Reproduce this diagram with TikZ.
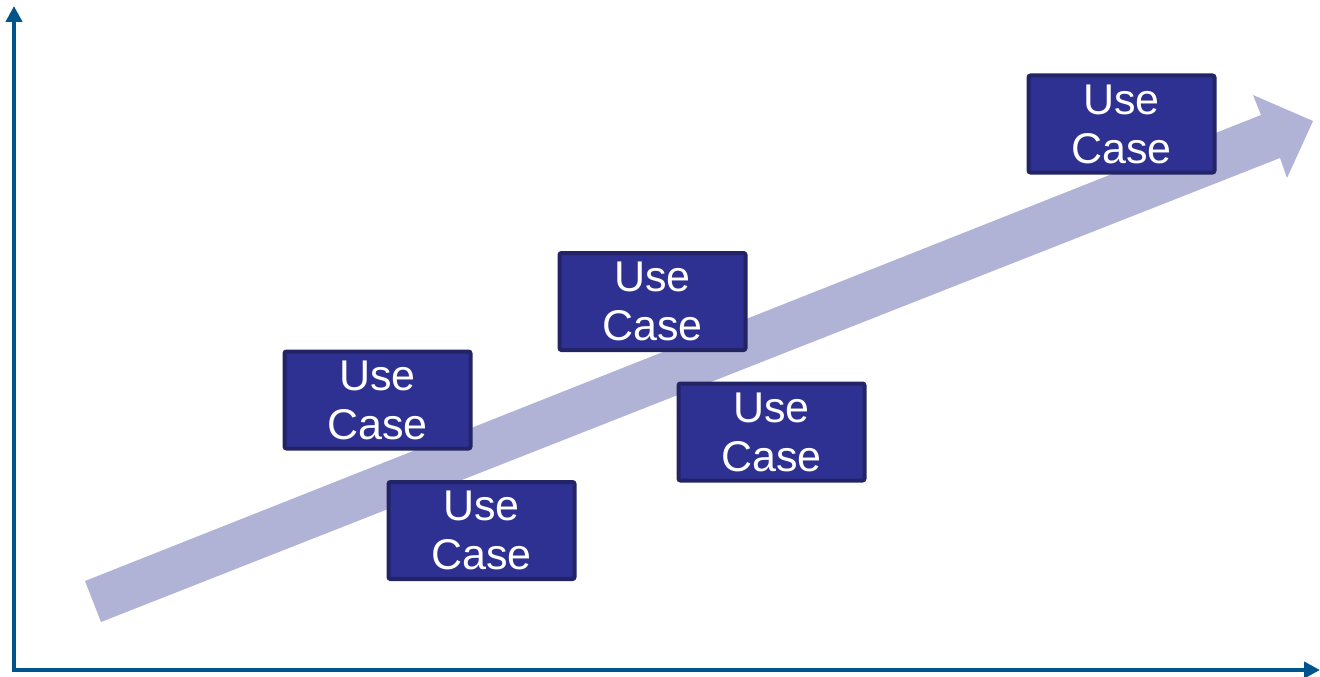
\documentclass[tikz,border=0pt]{standalone}
\usepackage{fontspec}
\setmainfont{Liberation Sans}
\usetikzlibrary{arrows.meta}
\definecolor{axisblue}{RGB}{0,84,140}
\definecolor{boxfill}{RGB}{46,49,146}
\definecolor{boxline}{RGB}{34,36,102}
\definecolor{arrowfill}{RGB}{176,179,214}
\tikzset{
  axisline/.style={draw=axisblue, line width=4pt, -{Triangle[width=16pt,length=16pt]}},
  usecase/.style={draw=boxline, fill=boxfill, line width=4pt, rounded corners=2pt,
    minimum width=186pt, minimum height=97pt, inner sep=0pt, align=center,
    text=white, font=\fontsize{43}{49}\selectfont},
  bigarrow/.style={fill=arrowfill, draw=none}
}
\begin{document}
\begin{tikzpicture}[x=1pt,y=-1pt]
\useasboundingbox (0,0) rectangle (1320,677);
% axes
\coordinate (O) at (14,670);
\coordinate (ytop) at (14,6);
\coordinate (xend) at (1320,670);
\draw[axisline] (14,672) -- (ytop);
\draw[axisline] (12,670) -- (xend);
% big trend arrow
\fill[bigarrow] (101,622) -- (85,581) -- (1261,115) -- (1253,95) -- (1313,121)
  -- (1287,178) -- (1280,158) -- cycle;
% use case boxes
\node[usecase] (uc1) at (1121.5,124) {Use\\Case};
\node[usecase] (uc2) at (652.5,301.5) {Use\\Case};
\node[usecase] (uc3) at (377.5,400) {Use\\Case};
\node[usecase] (uc4) at (771.5,432) {Use\\Case};
\node[usecase] (uc5) at (481.5,530.5) {Use\\Case};
\end{tikzpicture}
\end{document}
